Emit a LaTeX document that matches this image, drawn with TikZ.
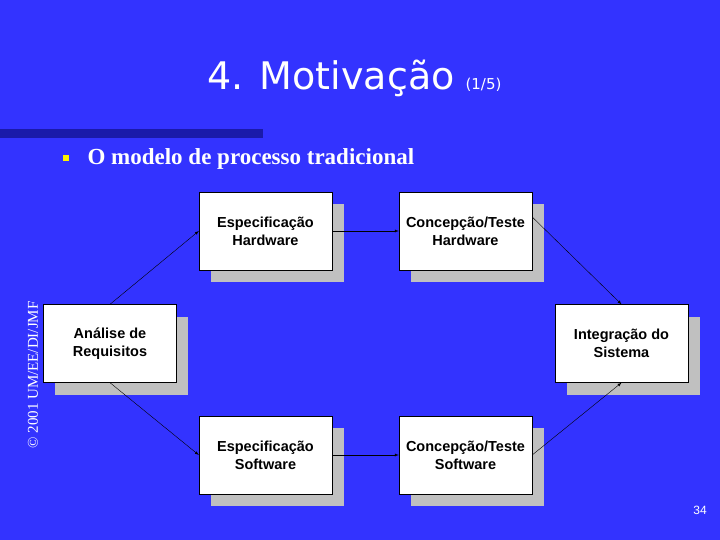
\documentclass[tikz,border=0pt]{standalone}
\usepackage{fontspec}
\setmainfont{Liberation Serif}
\setsansfont{Liberation Sans}
\newfontfamily\titlefont{DejaVu Sans}
\usetikzlibrary{positioning}
\definecolor{slideblue}{RGB}{51,51,255}
\definecolor{barblue}{RGB}{26,26,170}
\definecolor{shadowgray}{RGB}{192,192,192}
\begin{document}
\begin{tikzpicture}[x=1pt,y=-1pt,
  phase/.style={draw=black, fill=white, minimum width=133pt, minimum height=78pt,
    align=center, font=\sffamily\bfseries\fontsize{14.5}{18}\selectfont, inner sep=0pt},
  shade/.style={fill=shadowgray},
  flow/.style={-latex, thin, black}]
  \useasboundingbox[fill=slideblue] (0,0) rectangle (720,540);
  % title
  \node[white, font=\titlefont\fontsize{38}{44}\selectfont] (title) at (331,78) {4. Motivação};
  \node[white, font=\titlefont\fontsize{15}{18}\selectfont, right=4pt of title.base east, anchor=base west] (part) {(1/5)};
  \fill[barblue] (0,129) rectangle (263,138);
  % bullet
  \fill[yellow] (63,155) rectangle (69,161);
  \node[white, font=\bfseries\fontsize{23}{27}\selectfont, anchor=west] (topic) at (84,159) {O modelo de processo tradicional};
  \node[white, rotate=90, font=\fontsize{15}{18}\selectfont] (copy) at (33,375) {© 2001 UM/EE/DI/JMF};
  \node[white, font=\sffamily\fontsize{12}{14}\selectfont] (page) at (700,510) {34};
  % shadows
  \foreach \x/\y in {211/204, 411/204, 55/317, 567/317, 211/428, 411/428}
    \fill[shade] (\x,\y) rectangle ++(133,78);
  % phases
  \node[phase] (reqs) at (110,343.5) {Análise de\\Requisitos};
  \node[phase] (hwspec) at (265.5,231) {Especificação\\Hardware};
  \node[phase] (hwtest) at (465.5,231) {Concepção/Teste\\Hardware};
  \node[phase] (swspec) at (265.5,455) {Especificação\\Software};
  \node[phase] (swtest) at (465.5,455) {Concepção/Teste\\Software};
  \node[phase] (integ) at (621.5,343.5) {Integração do\\Sistema};
  % connectors
  \draw[flow] (reqs.north) -- (hwspec.west);
  \draw[flow] (hwspec.east) -- (hwtest.west);
  \draw[flow] ([yshift=14pt]hwtest.east) -- (integ.north);
  \draw[flow] (reqs.south) -- (swspec.west);
  \draw[flow] (swspec.east) -- (swtest.west);
  \draw[flow] (swtest.east) -- (integ.south);
\end{tikzpicture}
\end{document}
